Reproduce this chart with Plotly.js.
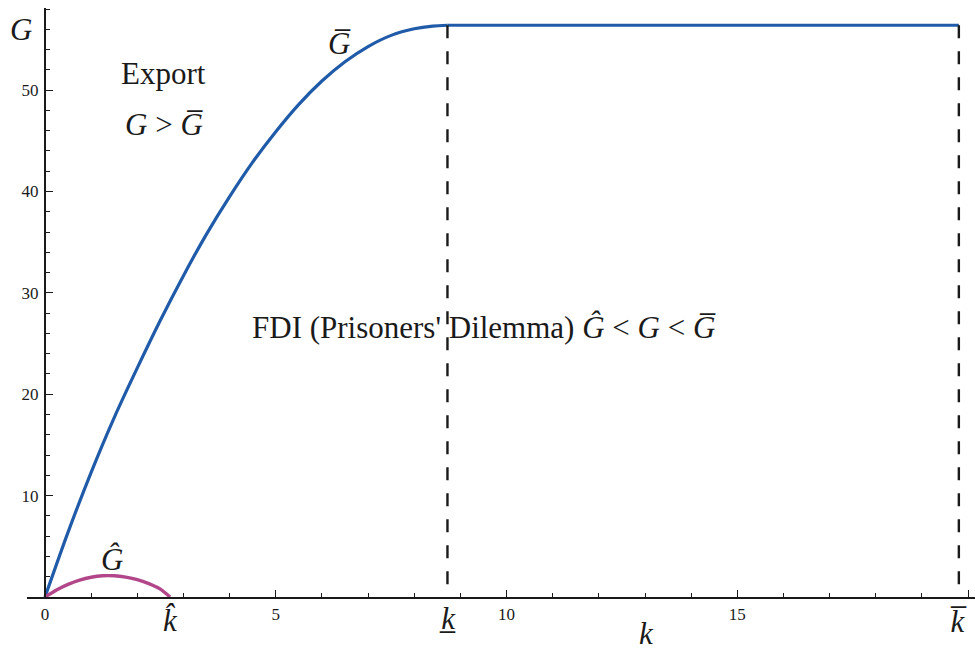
<!DOCTYPE html>
<html>
<head>
<meta charset="utf-8">
<script src="https://cdn.plot.ly/plotly-3.0.1.min.js"></script>
<style>html,body{margin:0;padding:0;background:#fff;}</style>
</head>
<body>
<div id="chart" style="width:975px;height:650px;"></div>
<script>
// ---- data ----
const blueK = [0, 0.5, 1, 1.5, 2, 2.5, 3, 3.5, 4, 4.5, 5, 5.5, 6, 6.5, 7, 7.5, 8, 8.4, 8.72];
const blueG = [0, 6.4, 12.3, 17.7, 22.6, 27.3, 31.7, 35.8, 39.5, 42.9, 45.9, 48.6, 50.9, 52.8, 54.3, 55.4, 56.05, 56.32, 56.4];
const magK = [0, 0.25, 0.5, 0.75, 1.0, 1.25, 1.5, 1.75, 2.0, 2.25, 2.5, 2.71];
const magG = [0, 0.7, 1.25, 1.67, 1.95, 2.09, 2.09, 1.96, 1.72, 1.32, 0.78, 0];
const kHat = 2.71;
const kLow = 8.72;
const kBar = 19.8;
const gBar = 56.4;
const xTickVals = [0, 5, 10, 15, 20];
const xTickText = ['0', '5', '10', '15', ''];
const yTickVals = [10, 20, 30, 40, 50];
const yTickText = ['10', '20', '30', '40', '50'];

// ---- styling ----
const xRange = [-0.39, 20.15];
const yRange = [0, 58.1];
const serif = 'Liberation Serif, Times New Roman, DejaVu Serif, serif';
const ink = '#1a1a1a';
const blue = '#1f5ba8';
const magenta = '#b2468a';

const traces = [
  {x: blueK, y: blueG, mode: 'lines', line: {color: blue, width: 3.2, shape: 'spline', smoothing: 0.8}, hoverinfo: 'skip'},
  {x: [kLow, kBar], y: [gBar, gBar], mode: 'lines', line: {color: blue, width: 3.2}, hoverinfo: 'skip'},
  {x: magK, y: magG, mode: 'lines', line: {color: magenta, width: 3.4, shape: 'spline', smoothing: 0.8}, hoverinfo: 'skip'},
  {x: [kLow, kLow], y: [gBar, 0], mode: 'lines', line: {color: ink, width: 2.4, dash: '13px,13px'}, hoverinfo: 'skip'},
  {x: [kBar, kBar], y: [gBar, 0], mode: 'lines', line: {color: ink, width: 2.4, dash: '13px,13px'}, hoverinfo: 'skip'}
];

function ann(text, x, y, size, xref, yref) {
  return {text: text, x: x, y: y, xref: xref || 'x', yref: yref || 'y', showarrow: false,
          xanchor: 'center', yanchor: 'middle', font: {family: serif, size: size, color: ink}};
}
const big = 31;
const annotations = [
  ann('<i>G</i>', -0.0066, 56.0, big, 'paper', 'y'),
  ann('Export', 2.57, 51.6, big),
  ann('<i>G</i> > <i>G\u0305</i>', 2.58, 46.6, big),
  ann('<i>G\u0305</i>', 6.37, 54.6, big),
  ann('FDI (Prisoners\' Dilemma) <i>\u011C</i> < <i>G</i> < <i>G\u0305</i>', 9.52, 26.6, big),
  ann('<i>\u011C</i>', 1.45, 3.7, big),
  ann('<i>k\u0302</i>', kHat, -0.04, big, 'x', 'paper'),
  ann('<i>k\u0332</i>', kLow, -0.037, big, 'x', 'paper'),
  ann('<i>k\u0305</i>', kBar, -0.041, big, 'x', 'paper'),
  ann('<i>k</i>', 13.03, -0.062, big, 'x', 'paper')
];

const layout = {
  width: 975, height: 650,
  margin: {l: 27, r: 0, t: 8, b: 53, pad: 0},
  paper_bgcolor: '#fff', plot_bgcolor: '#fff',
  showlegend: false,
  xaxis: {
    range: xRange, showgrid: false, zeroline: false,
    showline: true, linecolor: ink, linewidth: 2,
    ticks: 'inside', ticklen: 7, tickwidth: 1, tickcolor: ink,
    tickmode: 'array', tickvals: xTickVals, ticktext: xTickText,
    tickfont: {family: serif, size: 17, color: ink},
    ticklabelstandoff: 1,
    minor: {dtick: 1, tick0: 0, ticks: 'inside', ticklen: 4, tickwidth: 1, tickcolor: ink, showgrid: false}
  },
  yaxis: {
    range: yRange, showgrid: false, zeroline: false,
    anchor: 'free', position: (0 - xRange[0]) / (xRange[1] - xRange[0]),
    showline: true, linecolor: ink, linewidth: 2,
    ticks: 'inside', ticklen: 7, tickwidth: 1, tickcolor: ink,
    tickmode: 'array', tickvals: yTickVals, ticktext: yTickText,
    tickfont: {family: serif, size: 17, color: ink},
    ticklabelstandoff: 2,
    minor: {dtick: 2, tick0: 0, ticks: 'inside', ticklen: 4, tickwidth: 1, tickcolor: ink, showgrid: false}
  },
  annotations: annotations
};

Plotly.newPlot('chart', traces, layout, {staticPlot: true, displayModeBar: false});
</script>
</body>
</html>
